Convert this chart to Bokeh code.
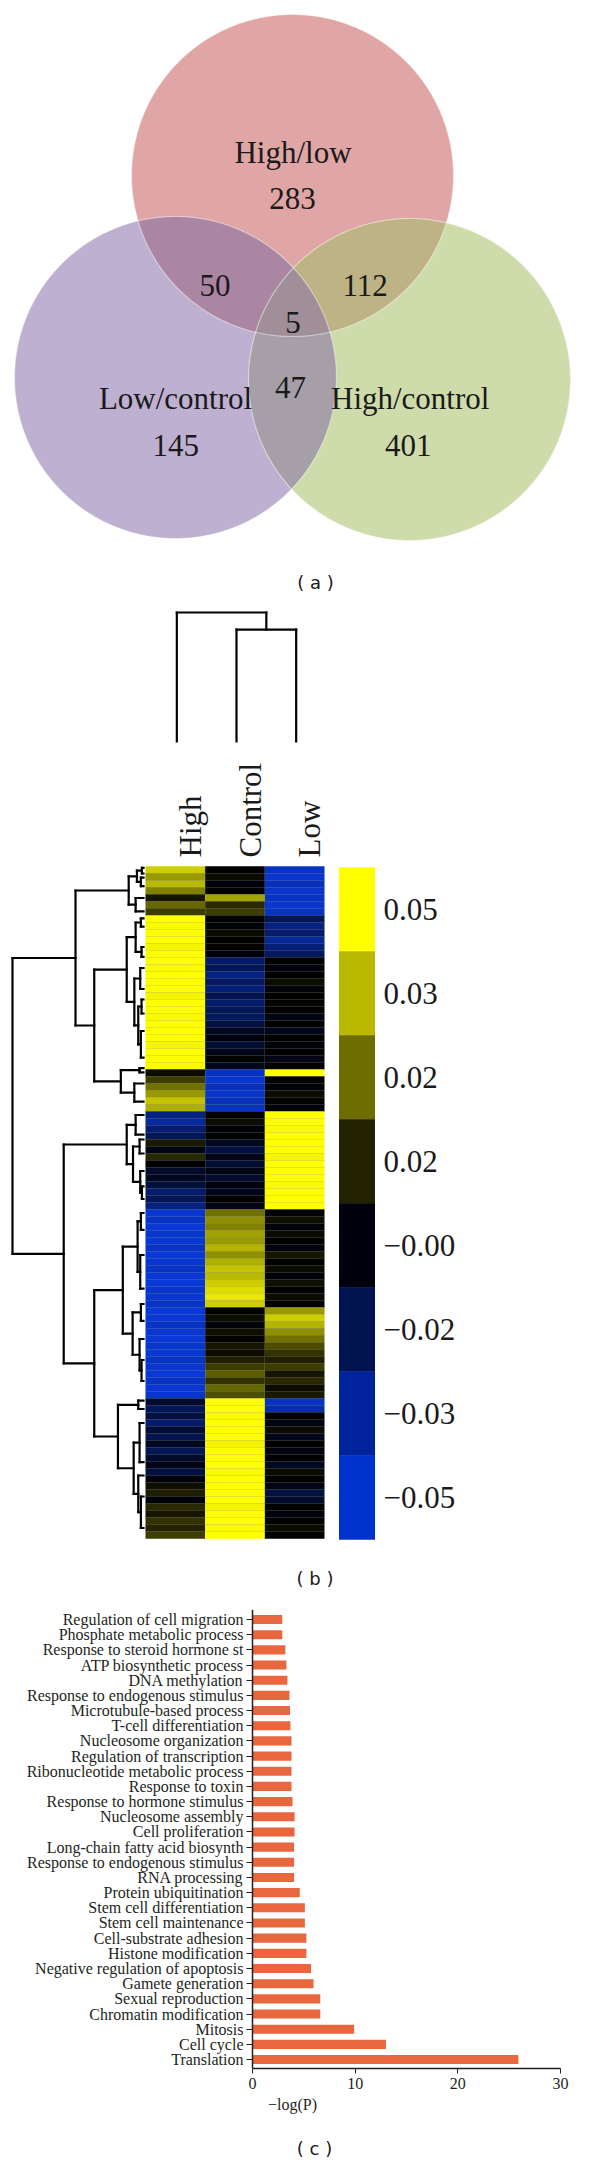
import math
import numpy as np
from bokeh.plotting import figure
from bokeh.layouts import column
from bokeh.models import Range1d, FixedTicker, LinearColorMapper, ColumnDataSource
from bokeh.core.properties import value
from bokeh.embed import file_html
from bokeh.resources import INLINE

# ------------------------------------------------------------------ data
VENN_SETS = ["High/low", "Low/control", "High/control"]
VENN_ONLY = [283, 145, 401]          # top, left, right
VENN_TOP_LEFT = 50
VENN_TOP_RIGHT = 112
VENN_LEFT_RIGHT = 47
VENN_ALL = 5

HM_COLUMNS = ["High", "Control", "Low"]
HM_HIGH = [0.040, 0.030, 0.036, 0.025, 0.004, 0.020, 0.012,
           0.050, 0.049, 0.050, 0.050, 0.048, 0.050, 0.050, 0.049, 0.050, 0.050, 0.050,
           0.048, 0.050, 0.050, 0.049, 0.050, 0.050, 0.050, 0.048, 0.050, 0.050, 0.049,
           0.002, 0.012, 0.022, 0.030, 0.038, 0.034,
           -0.030, -0.036, -0.026, -0.020,
           0.005, -0.004, 0.008, 0.000, -0.010, -0.007, -0.014,
           -0.025, -0.020, -0.030,
           -0.048, -0.046, -0.050, -0.047, -0.049, -0.045, -0.050, -0.048, -0.046, -0.049,
           -0.050, -0.047, -0.048, -0.045, -0.050, -0.049, -0.046, -0.048, -0.050, -0.047,
           -0.049, -0.045, -0.048, -0.050, -0.046, -0.049, -0.047,
           -0.010, -0.020, -0.015, -0.025, -0.012, -0.018, -0.008, -0.020, -0.010, -0.005,
           -0.015, -0.003,
           0.003, 0.006, -0.002, 0.008, 0.004, 0.010, 0.007, 0.012]
HM_CONTROL = [0.000, 0.002, -0.002, 0.000, 0.032, 0.008, 0.012,
              0.000, -0.002, 0.002, 0.000, 0.000, -0.003,
              -0.025, -0.020, -0.030, -0.022, -0.028, -0.018, -0.025, -0.020,
              -0.022, -0.015,
              -0.008, -0.003, -0.012, -0.005, 0.000, -0.006,
              -0.045, -0.048, -0.044, -0.047, -0.043, -0.046,
              0.000, 0.002, -0.002, 0.000,
              -0.008, -0.015, -0.005, -0.012, -0.004, -0.010, -0.003, -0.006, 0.000, -0.004,
              0.022, 0.028, 0.025, 0.032, 0.030, 0.035, 0.028, 0.034, 0.038, 0.036,
              0.040, 0.043, 0.045, 0.040,
              0.000, 0.002, -0.002, 0.003, 0.000, 0.004, 0.002, 0.006,
              0.012, 0.018, 0.010, 0.020, 0.015,
              0.050, 0.050, 0.049, 0.050, 0.050, 0.050, 0.048, 0.050, 0.050, 0.050,
              0.049, 0.050, 0.050, 0.050, 0.050, 0.048, 0.050, 0.050, 0.049, 0.050]
HM_LOW = [-0.046, -0.048, -0.044, -0.047, -0.045, -0.048, -0.046,
          -0.020, -0.030, -0.025, -0.035, -0.028, -0.022,
          0.000, -0.003, 0.000, 0.002, -0.002, 0.000, 0.001, 0.000,
          -0.004, 0.000, -0.006, 0.000, -0.002, 0.000, -0.005, 0.000,
          0.050,
          0.000, -0.002, 0.002, 0.000, -0.001,
          0.050, 0.050, 0.049, 0.050, 0.050, 0.050, 0.048, 0.050, 0.050, 0.050,
          0.049, 0.050, 0.050, 0.050,
          0.000, 0.003, -0.002, 0.002, 0.000, -0.003, 0.004, 0.000, 0.002, -0.002,
          0.003, 0.000, 0.002, 0.000,
          0.030, 0.040, 0.035, 0.028, 0.022, 0.015,
          0.010, 0.006, 0.012, 0.004, 0.008, 0.002, 0.005,
          -0.045, -0.040,
          0.000, -0.004, 0.002, -0.006, 0.000, -0.003, 0.000, -0.008, 0.002, 0.000,
          -0.004, -0.015, -0.010, 0.000, -0.003, 0.000, 0.002, 0.000]

# row dendrogram: (height, child, child); leaves are row positions
ROW_TREE = (1.0,
            (0.519,
             (0.113, (0.05, (0.012, 0.2, 1.0), (0.02, 1.6, 2.8)), (0.06, 4.5, 6.4)),
             (0.376,
              (0.128, (0.06, (0.02, 7.4, 8.6), (0.015, 11.5, 12.9)),
                      (0.07, (0.025, 14.5, 17.5),
                             (0.04, (0.015, 19.0, 21.0), (0.02, 23.5, 27.3)))),
              (0.173, (0.03, 28.8, 29.4), (0.07, 31.0, 33.6)))),
            (0.609,
             (0.128, (0.06, 35.5, 38.3),
                     (0.08, (0.03, 39.0, 41.0), (0.025, 43.5, (0.012, 45.7, 47.5)))),
             (0.376,
              (0.158,
               (0.045, (0.02, 49.5, 51.9), (0.025, 55.5, 60.3)),
               (0.083, (0.02, 62.5, 64.9), (0.03, 67.5, (0.015, 70.5, 73.5)))),
              (0.195,
               (0.04, 76.3, 77.5),
               (0.075, (0.03, 79.5, 85.1), (0.04, 87.0, (0.02, 90.0, 94.5)))))))
# column dendrogram: leaves are column indices
COL_TREE = (1.0, 0, (0.868, 1, 2))

CB_LABELS = ["0.05", "0.03", "0.02", "0.02", "\u22120.00", "\u22120.02", "\u22120.03", "\u22120.05"]

GO_TERMS = ["Regulation of cell migration", "Phosphate metabolic process",
            "Response to steroid hormone st", "ATP biosynthetic process",
            "DNA methylation", "Response to endogenous stimulus",
            "Microtubule-based process", "T-cell differentiation",
            "Nucleosome organization", "Regulation of transcription",
            "Ribonucleotide metabolic process", "Response to toxin",
            "Response to hormone stimulus", "Nucleosome assembly",
            "Cell proliferation", "Long-chain fatty acid biosynth",
            "Response to endogenous stimulus", "RNA processing",
            "Protein ubiquitination", "Stem cell differentiation",
            "Stem cell maintenance", "Cell-substrate adhesion",
            "Histone modification", "Negative regulation of apoptosis",
            "Gamete generation", "Sexual reproduction",
            "Chromatin modification", "Mitosis", "Cell cycle", "Translation"]
GO_VALUES = [2.9, 2.9, 3.2, 3.3, 3.4, 3.6, 3.65, 3.7, 3.8, 3.8,
             3.8, 3.8, 3.9, 4.1, 4.1, 4.05, 4.05, 4.05, 4.6, 5.1,
             5.1, 5.25, 5.25, 5.7, 5.95, 6.6, 6.6, 9.9, 13.0, 25.9]

# ------------------------------------------------------------------ styles
SERIF = "Liberation Serif"
SANS = "DejaVu Sans"
INK = "#1a1a1a"


def blank_fig(w, h, x0, x1, y0, y1):
    p = figure(width=w, height=h, x_range=Range1d(x0, x1), y_range=Range1d(y1, y0),
               toolbar_location=None, output_backend="svg",
               x_axis_location=None, y_axis_location=None, min_border=0)
    p.grid.grid_line_color = None
    p.outline_line_color = None
    p.background_fill_color = "white"
    return p


# ------------------------------------------------------------------ (a) Venn
venn = blank_fig(584, 592, 8, 592, 8, 600)

R = 161
CENTERS = [(300, 183), (183, 385), (417, 387)]   # top, left, right
C_SOLO = ["#E0A5A5", "#BEB0D0", "#CEDCAB"]
C_TL, C_TR, C_LR, C_ALL = "#AB86A2", "#BDB384", "#A69FA8", "#A08F99"


def circle_poly(cx, cy, r, n=360):
    t = np.linspace(0, 2 * np.pi, n, endpoint=False)
    return list(zip(cx + r * np.cos(t), cy + r * np.sin(t)))


def clip(subject, clipper):
    def inside(p, a, b):
        return (b[0] - a[0]) * (p[1] - a[1]) - (b[1] - a[1]) * (p[0] - a[0]) >= 0

    def inter(s, e, a, b):
        x1, y1 = s; x2, y2 = e; x3, y3 = a; x4, y4 = b
        den = (x1 - x2) * (y3 - y4) - (y1 - y2) * (x3 - x4)
        t = ((x1 - x3) * (y3 - y4) - (y1 - y3) * (x3 - x4)) / den
        return (x1 + t * (x2 - x1), y1 + t * (y2 - y1))

    out = subject
    for i in range(len(clipper)):
        a, b = clipper[i], clipper[(i + 1) % len(clipper)]
        inp, out = out, []
        if not inp:
            break
        s = inp[-1]
        for e in inp:
            if inside(e, a, b):
                if not inside(s, a, b):
                    out.append(inter(s, e, a, b))
                out.append(e)
            elif inside(s, a, b):
                out.append(inter(s, e, a, b))
            s = e
    return out


polys = [circle_poly(cx, cy, R) for cx, cy in CENTERS]
for poly, col in zip(polys, C_SOLO):
    venn.patch([q[0] for q in poly], [q[1] for q in poly], fill_color=col, line_color=None)
lens_tl = clip(polys[0], polys[1])
lens_tr = clip(polys[0], polys[2])
lens_lr = clip(polys[1], polys[2])
triple = clip(lens_tl, polys[2])
for poly, col in [(lens_tl, C_TL), (lens_tr, C_TR), (lens_lr, C_LR), (triple, C_ALL)]:
    venn.patch([q[0] for q in poly], [q[1] for q in poly], fill_color=col, line_color=None)
for poly in polys:
    venn.patch([q[0] for q in poly] + [poly[0][0]], [q[1] for q in poly] + [poly[0][1]],
               fill_alpha=0, line_color="white", line_alpha=0.45, line_width=1.2)

venn_text = [VENN_SETS[0], str(VENN_ONLY[0]), str(VENN_TOP_LEFT), str(VENN_TOP_RIGHT),
             str(VENN_ALL), str(VENN_LEFT_RIGHT), VENN_SETS[1], VENN_SETS[2],
             str(VENN_ONLY[1]), str(VENN_ONLY[2])]
venn_x = [300.5, 300, 222.5, 372.6, 300.5, 298, 183, 417.7, 183.3, 415.7]
venn_y = [160, 206, 293, 293, 330, 395, 406, 406, 453, 453]
venn.text(x=venn_x, y=venn_y, text=venn_text, text_font=value(SERIF),
          text_font_size="31px", text_align="center", text_baseline="alphabetic",
          text_color=INK)
venn.text(x=[323], y=[590], text=["( a )"], text_font=value(SANS), text_font_size="18px",
          text_align="center", text_baseline="alphabetic", text_color=INK)

# ------------------------------------------------------------------ (b) heatmap
heat = blank_fig(584, 1000, 8, 592, 600, 1600)

HM_LEFT, HM_TOP, ROW_H = 153.0, 874.0, 7.0
COL_W = (332.0 - 153.0) / 3

PAL = []
for k in range(256):
    t = -1 + 2 * k / 255
    if t < 0:
        r, g, b = 8 * -t, 56 * -t, 214 * -t
    else:
        r, g, b = 255 * t, 255 * t, 0
    PAL.append("#%02x%02x%02x" % (int(round(r)), int(round(g)), int(round(b))))
mapper = LinearColorMapper(palette=PAL, low=-0.05, high=0.05)

hx, hy, hv = [], [], []
for j, col in enumerate([HM_HIGH, HM_CONTROL, HM_LOW]):
    for i, v in enumerate(col):
        hx.append(HM_LEFT + COL_W * (j + 0.5))
        hy.append(HM_TOP + ROW_H * (i + 0.5))
        hv.append(v)
hsrc = ColumnDataSource(dict(x=hx, y=hy, v=hv))
heat.rect(x="x", y="y", width=COL_W, height=ROW_H + 0.6, source=hsrc,
          fill_color={"field": "v", "transform": mapper}, line_color=None)
# faint row separators (the fine striping of the original)
heat.segment(x0=[HM_LEFT] * 95, x1=[HM_LEFT + 3 * COL_W] * 95,
             y0=[HM_TOP + ROW_H * (i + 1) for i in range(95)],
             y1=[HM_TOP + ROW_H * (i + 1) for i in range(95)],
             line_color="#808080", line_alpha=0.22, line_width=1)

# row dendrogram
LEAF_X, DX = 151.0, 131.0
seg = dict(x0=[], y0=[], x1=[], y1=[])


def add(x0, y0, x1, y1):
    seg["x0"].append(x0); seg["y0"].append(y0); seg["x1"].append(x1); seg["y1"].append(y1)


def walk_row(n):
    if not isinstance(n, tuple):
        return n, 0.0
    h, a, b = n
    pa, ha = walk_row(a)
    pb, hb = walk_row(b)
    X = lambda hh: LEAF_X - hh * DX
    Y = lambda pp: HM_TOP + ROW_H * pp
    add(X(h), Y(pa), X(h), Y(pb))
    add(X(ha), Y(pa), X(h), Y(pa))
    add(X(hb), Y(pb), X(h), Y(pb))
    return (pa + pb) / 2, h


walk_row(ROW_TREE)

COL_LEAF_Y, COL_DY = 749.0, 129.0


def walk_col(n):
    if not isinstance(n, tuple):
        return HM_LEFT + COL_W * (n + 0.5) + 1.5, 0.0
    h, a, b = n
    pa, ha = walk_col(a)
    pb, hb = walk_col(b)
    Y = lambda hh: COL_LEAF_Y - hh * COL_DY
    add(pa, Y(h), pb, Y(h))
    add(pa, Y(ha), pa, Y(h))
    add(pb, Y(hb), pb, Y(h))
    return (pa + pb) / 2, h


walk_col(COL_TREE)
heat.segment(x0="x0", y0="y0", x1="x1", y1="y1", source=ColumnDataSource(seg),
             line_color="black", line_width=2.2, line_cap="square")

# column labels
heat.text(x=[HM_LEFT + COL_W * (j + 0.5) + 15 for j in range(3)], y=[865] * 3,
          text=HM_COLUMNS, angle=math.pi / 2, text_align="left",
          text_baseline="alphabetic", text_font=value(SERIF), text_font_size="31px",
          text_color=INK)

# colour key
CB_COLORS = ["#FFFF00", "#BBB800", "#6E6E00", "#222200",
             "#00000F", "#00124F", "#00229A", "#0033CC"]
CB_TOP, CB_H = 875.0, 84.0
heat.rect(x=[364.5] * 8, y=[CB_TOP + CB_H * (k + 0.5) for k in range(8)], width=36,
          height=CB_H + 0.5, fill_color=CB_COLORS, line_color=None)
heat.text(x=[391] * 8, y=[CB_TOP + CB_H * (k + 0.5) for k in range(8)], text=CB_LABELS,
          text_font=value(SERIF), text_font_size="31px", text_align="left",
          text_baseline="middle", text_color=INK)
heat.text(x=[322.5], y=[1586], text=["( b )"], text_font=value(SANS), text_font_size="18px",
          text_align="center", text_baseline="alphabetic", text_color=INK)

# ------------------------------------------------------------------ (c) bar chart
N = len(GO_TERMS)
PX_PER_UNIT = 308.0 / 30.0          # axis 0..30 spans page x 260..568
X0 = -(260 - 8) / PX_PER_UNIT
X1 = 30 + (592 - 568) / PX_PER_UNIT
bar = figure(width=584, height=525, x_range=Range1d(X0, X1),
             y_range=Range1d(-0.59, N - 1 + 0.66),
             toolbar_location=None, output_backend="svg",
             min_border_left=0, min_border_right=0, min_border_top=17, min_border_bottom=49)
bar.grid.grid_line_color = None
bar.outline_line_color = None
ys = [N - 1 - i for i in range(N)]
bar.hbar(y=ys, right=GO_VALUES, left=0, height=0.6, fill_color="#E8673F", line_color=None)

ya = bar.yaxis[0]
ya.fixed_location = 0
ya.ticker = FixedTicker(ticks=list(range(N)))
ya.major_label_overrides = {N - 1 - i: t for i, t in enumerate(GO_TERMS)}
ya.minor_tick_line_color = None
ya.major_tick_out = 6
ya.major_tick_in = 0
ya.major_label_standoff = 3
ya.axis_line_width = 1.5
ya.axis_line_color = "#231F20"
ya.major_tick_line_color = "#231F20"
ya.major_label_text_font = SERIF
ya.major_label_text_font_size = "16px"
ya.major_label_text_color = "#231F20"

xa = bar.xaxis[0]
xa.bounds = (0, 30)
xa.ticker = FixedTicker(ticks=[0, 10, 20, 30])
xa.minor_tick_line_color = None
xa.major_tick_out = 5
xa.major_tick_in = 0
xa.major_label_standoff = 4
xa.axis_line_width = 1.5
xa.axis_line_color = "#231F20"
xa.major_tick_line_color = "#231F20"
xa.major_label_text_font = SERIF
xa.major_label_text_font_size = "16px"
xa.major_label_text_color = "#231F20"
xa.axis_label = "\u2212log(P)"
xa.axis_label_text_font = SERIF
xa.axis_label_text_font_style = "normal"
xa.axis_label_text_font_size = "16px"
xa.axis_label_text_color = "#231F20"
xa.axis_label_standoff = 4

cap = blank_fig(584, 43, 8, 592, 2125, 2168)
cap.text(x=[322], y=[2156], text=["( c )"], text_font=value(SANS), text_font_size="18px",
         text_align="center", text_baseline="alphabetic", text_color=INK)

layout = column(venn, heat, bar, cap, spacing=0)
open("out.html", "w").write(file_html(layout, INLINE))
